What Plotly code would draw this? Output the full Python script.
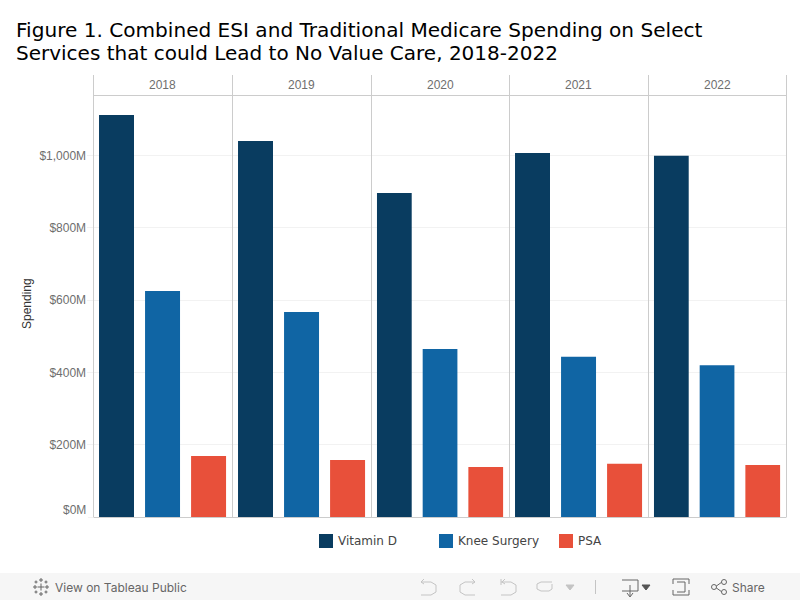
import plotly.graph_objects as go
from plotly.subplots import make_subplots

years = ["2018", "2019", "2020", "2021", "2022"]
series = ["Vitamin D", "Knee Surgery", "PSA"]
vitamin_d = [1112, 1040, 896, 1007, 999]
knee_surgery = [625, 567, 465, 443, 420]
psa = [169, 158, 138, 147, 144]
colors = ["#093c60", "#1065a4", "#e8503a"]
y_ticks = [200, 400, 600, 800, 1000]
y_tick_labels = ["$200M", "$400M", "$600M", "$800M", "$1,000M"]
title_line_1 = "Figure 1. Combined ESI and Traditional Medicare Spending on Select"
title_line_2 = "Services that could Lead to No Value Care, 2018-2022"

W, H = 800, 600
def X(p): return p / W
def Y(p): return 1 - p / H

values = [vitamin_d, knee_surgery, psa]
edges = [93.5, 232.5, 371.5, 509.5, 648.5, 786.5]
GRID = "#f2f2f2"
LINE = "#cccccc"
TICK = "#6e6e6e"

fig = make_subplots(rows=1, cols=5, shared_yaxes=True, horizontal_spacing=0)
for c, year in enumerate(years):
    for s, name in enumerate(series):
        fig.add_trace(go.Bar(x=[name], y=[values[s][c]], name=name, width=0.76,
                             marker=dict(color=colors[s], line_width=0),
                             showlegend=False,
                             hovertemplate=year + " " + name + ": $%{y:,}M<extra></extra>"),
                      row=1, col=c + 1)
    fig.update_xaxes(domain=[X(edges[c]), X(edges[c + 1])], range=[-0.5, 2.52], automargin=False,
                     categoryorder="array", categoryarray=series, showticklabels=False,
                     ticks="", showgrid=False, zeroline=False, showline=False, row=1, col=c + 1)
    fig.add_annotation(text=year, xref="paper", yref="paper", x=X((edges[c] + edges[c + 1]) / 2 - 0.5),
                       y=Y(85), xanchor="center", yanchor="middle", showarrow=False,
                       font=dict(family="Liberation Sans", size=12, color=TICK))

fig.update_yaxes(domain=[Y(517), Y(95.5)], range=[0, 1166], tickmode="array", tickvals=y_ticks,
                 ticktext=y_tick_labels,
                 showgrid=True, gridcolor=GRID, gridwidth=1, zeroline=False, automargin=False,
                 showline=False, ticks="outside", ticklen=6, tickcolor=GRID, tickwidth=1, ticklabelstandoff=-2,
                 tickfont=dict(family="Liberation Sans", size=12, color=TICK))
# Tableau lifts the baseline label inside the pane
fig.add_annotation(text="$0M", xref="paper", yref="paper", x=X(88), y=Y(510), xanchor="right", yanchor="middle",
                   showarrow=False, font=dict(family="Liberation Sans", size=12, color=TICK))
fig.add_annotation(text="Spending", xref="paper", yref="paper", x=X(27), y=Y(304), textangle=-90,
                   xanchor="center", yanchor="middle", showarrow=False,
                   font=dict(family="Liberation Sans", size=12, color="#333333"))

shapes = []
def line(x0, y0, x1, y1, color=LINE, width=1):
    shapes.append(dict(type="line", xref="paper", yref="paper", x0=X(x0), y0=Y(y0), x1=X(x1), y1=Y(y1),
                       line=dict(color=color, width=width), layer="above"))
for e in edges:
    line(e, 75, e, 517)
line(93.5, 95.5, 786.5, 95.5)
line(88, 517.5, 93.5, 517.5, GRID)
line(93.5, 517.5, 786.5, 517.5)

# legend
legend_x = [319, 439, 559]
for name, color, lx in zip(series, colors, legend_x):
    shapes.append(dict(type="rect", xref="paper", yref="paper", x0=X(lx), x1=X(lx + 14), y0=Y(548), y1=Y(534),
                       fillcolor=color, line_width=0, layer="above"))
    fig.add_annotation(text=name, xref="paper", yref="paper", x=X(lx + 17), y=Y(541), xanchor="left", yanchor="middle",
                       showarrow=False, font=dict(family="DejaVu Sans", size=12, color="#444444"))

# toolbar band
shapes.append(dict(type="rect", xref="paper", yref="paper", x0=0, x1=1, y0=0, y1=Y(573),
                   fillcolor="#f6f6f6", line_width=0, layer="below"))
FAINT = "#c4c4c4"
def path(points, color, width=1, fill=None):
    d = "M" + " L".join(f"{X(a):.5f},{Y(b):.5f}" for a, b in points)
    if fill:
        d += " Z"
    shapes.append(dict(type="path", xref="paper", yref="paper", path=d,
                       line=dict(color=color, width=width),
                       fillcolor=fill if fill else "rgba(0,0,0,0)", layer="above"))
# undo / redo group
path([(421, 582), (431, 582), (436, 585), (436, 592), (431, 595), (421, 595)], FAINT)
path([(424, 579), (421, 582), (424, 584)], FAINT)
path([(475, 582), (465, 582), (460, 585), (460, 592), (465, 595), (475, 595)], FAINT)
path([(472, 579), (475, 582), (472, 584)], FAINT)
path([(501, 582), (511, 582), (516, 585), (516, 592), (511, 595), (501, 595)], FAINT)
path([(501, 579), (501, 585)], FAINT)
path([(505, 579), (502, 582), (505, 584)], FAINT)
path([(552, 582), (541, 582), (537, 584), (537, 589), (541, 591), (549, 591), (552, 589), (552, 584)], FAINT)
path([(566, 585), (574, 585), (570, 590)], FAINT, fill=FAINT)
line(595.5, 580, 595.5, 594, FAINT)
# download
path([(622, 580), (638, 580), (638, 591), (622, 591)], "#666666")
path([(630, 585), (630, 596)], "#666666")
path([(627, 593), (630, 597), (633, 593)], "#666666")
path([(642, 585), (650, 585), (646, 590)], "#555555", fill="#555555")
# fullscreen
path([(673, 584), (673, 579), (689, 579), (689, 584)], "#666666")
path([(673, 590), (673, 595), (689, 595), (689, 590)], "#666666")
path([(677, 582), (685, 582), (685, 592), (677, 592)], "#666666")
# share
path([(722, 582), (715, 587), (722, 592)], "#666666")
for cx, cy in [(724, 582), (714, 587), (724, 592)]:
    shapes.append(dict(type="circle", xref="paper", yref="paper", x0=X(cx - 2.5), x1=X(cx + 2.5),
                       y0=Y(cy + 2.5), y1=Y(cy - 2.5), line=dict(color="#666666", width=1),
                       fillcolor="#f6f6f6", layer="above"))
# tableau mark
for cx, cy, r in [(41, 587, 3.5), (35, 587, 2), (47, 587, 2), (41, 580, 2), (41, 594, 2),
                  (36, 582, 1.5), (46, 582, 1.5), (36, 592, 1.5), (46, 592, 1.5)]:
    line(cx - r, cy, cx + r, cy, "#666666")
    line(cx, cy - r, cx, cy + r, "#666666")

def label(text, x, color, size=12):
    fig.add_annotation(text=text, xref="paper", yref="paper", x=X(x), y=Y(587), xanchor="left", yanchor="middle",
                       showarrow=False, font=dict(family="Inter", size=size, color=color))
label("View on Tableau Public", 53, "#666666")
label("Share", 730, "#666666")

fig.add_annotation(text=title_line_2, xref="paper", yref="paper", x=X(16), y=Y(53), xanchor="left", yanchor="middle",
                   showarrow=False, xshift=-2, font=dict(family="DejaVu Sans", size=20, color="#000000"))

fig.update_layout(
    width=W, height=H, margin=dict(l=0, r=0, t=0, b=0), autosize=False,
    paper_bgcolor="white", plot_bgcolor="white", barmode="overlay", shapes=shapes, showlegend=False,
    title=dict(text=title_line_1, x=X(16), xanchor="left", xref="paper", y=Y(30), yref="paper", yanchor="middle",
               font=dict(family="DejaVu Sans", size=20.08, color="#000000")),
    font=dict(family="Liberation Sans"),
)
fig.write_html("out.html", post_script="document.body.style.margin='0';", config=dict(displayModeBar=False))
